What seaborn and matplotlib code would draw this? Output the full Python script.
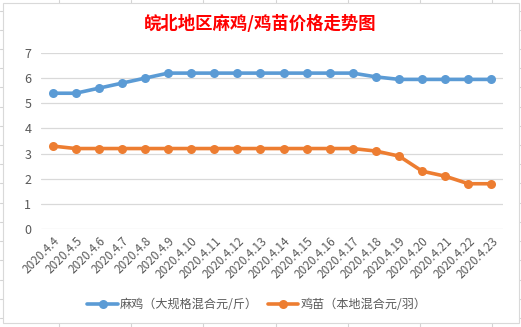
import matplotlib
matplotlib.use("Agg")
import matplotlib.pyplot as plt
from matplotlib.lines import Line2D
from matplotlib.patches import Rectangle
import seaborn as sns
import pandas as pd

dates = ["2020.4.4", "2020.4.5", "2020.4.6", "2020.4.7", "2020.4.8", "2020.4.9",
         "2020.4.10", "2020.4.11", "2020.4.12", "2020.4.13", "2020.4.14", "2020.4.15",
         "2020.4.16", "2020.4.17", "2020.4.18", "2020.4.19", "2020.4.20", "2020.4.21",
         "2020.4.22", "2020.4.23"]
maji = [5.4, 5.4, 5.6, 5.8, 6.0, 6.2, 6.2, 6.2, 6.2, 6.2, 6.2, 6.2, 6.2, 6.2,
        6.05, 5.95, 5.95, 5.95, 5.95, 5.95]
jimiao = [3.3, 3.2, 3.2, 3.2, 3.2, 3.2, 3.2, 3.2, 3.2, 3.2, 3.2, 3.2, 3.2, 3.2,
          3.1, 2.9, 2.3, 2.1, 1.8, 1.8]
series_names = ["麻鸡（大规格混合元/斤）", "鸡苗（本地混合元/羽）"]
colors = ["#5B9BD5", "#ED7D31"]
title = "皖北地区麻鸡/鸡苗价格走势图"
yticks = [0, 1, 2, 3, 4, 5, 6, 7]

sns.set_theme(style="white")
plt.rcParams['font.family'] = ['Noto Sans CJK SC', 'DejaVu Sans']

W, H = 521, 327
fig = plt.figure(figsize=(W / 100, H / 100), dpi=100)
fig.patch.set_facecolor("white")

# spreadsheet cell grid behind chart
grid_c = "#D4D4D4"
for k in range(18):
    y = 10.5 + 19.22 * k
    fig.add_artist(Line2D([0, 1], [1 - y / H, 1 - y / H], color=grid_c, lw=0.8, zorder=0))
for k in range(8):
    x = 59 + 72.2 * k
    fig.add_artist(Line2D([x / W, x / W], [0, 1], color=grid_c, lw=0.8, zorder=0))
# chart area
fig.add_artist(Rectangle((3 / W, 1 - 322.7 / H), (518.7 - 3) / W, (322.7 - 3) / H,
                         facecolor="white", edgecolor="#D9D9D9", lw=0.8, zorder=1))

ax = fig.add_axes([41 / W, 1 - 229 / H, (503 - 41) / W, (229 - 53) / H])
ax.set_zorder(2)
ax.patch.set_alpha(0)

df = pd.DataFrame({
    "x": list(range(len(dates))) * 2,
    "value": maji + jimiao,
    "series": [series_names[0]] * len(dates) + [series_names[1]] * len(dates),
})
sns.lineplot(data=df, x="x", y="value", hue="series", palette=colors, marker="o",
             markersize=6.5, markeredgewidth=0, linewidth=2.6, ax=ax, legend=False,
             zorder=3)

ax.set_xlim(-0.5, len(dates) - 0.5)
ax.set_ylim(0, 7)
ax.set_yticks(yticks)
ax.set_xticks(range(len(dates)))
ax.set_xticklabels(dates, rotation=45, ha="right", rotation_mode="anchor",
                   fontsize=8.5, color="#595959", family=['Noto Sans CJK SC', 'DejaVu Sans'])
ax.tick_params(axis="y", labelsize=9, colors="#595959", length=0, pad=7)
ax.tick_params(axis="x", length=0, pad=4)
ax.set_xlabel("")
ax.set_ylabel("")
for s in ax.spines.values():
    s.set_visible(False)
ax.grid(axis="y", color="#D9D9D9", lw=0.9)
ax.grid(axis="x", visible=False)

fig.text(260 / W, 1 - 24 / H, title, ha="center", va="center", color="#FF0000",
         fontsize=12.5, fontweight="bold")

handles = [Line2D([], [], color=c, marker="o", markersize=6.5, markeredgewidth=0, lw=2.6)
           for c in colors]
fig.legend(handles, series_names, loc="center", bbox_to_anchor=(257 / W, 1 - 305 / H),
           ncol=2, frameon=False, fontsize=8.7, handlelength=2.5, columnspacing=0.8,
           handletextpad=0.2, labelcolor="#595959")

fig.savefig("out.png", dpi=100)
